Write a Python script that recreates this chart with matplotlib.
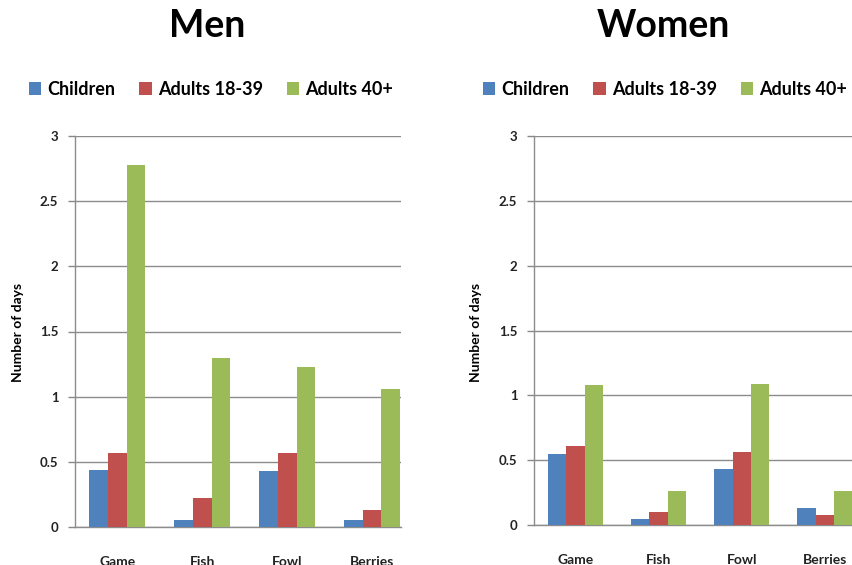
import matplotlib

matplotlib.use("Agg")
import matplotlib.pyplot as plt
import numpy as np
from matplotlib.patches import Patch

plt.rcParams["font.family"] = ["Lato", "DejaVu Sans"]

categories = ["Game", "Fish", "Fowl", "Berries"]
groups = ["Children", "Adults 18-39", "Adults 40+"]
colors = ["#4F81BD", "#C0504D", "#9BBB59"]

men_children = [0.44, 0.05, 0.43, 0.05]
men_adults_18_39 = [0.57, 0.22, 0.57, 0.13]
men_adults_40 = [2.78, 1.30, 1.23, 1.06]

women_children = [0.55, 0.05, 0.43, 0.13]
women_adults_18_39 = [0.61, 0.10, 0.56, 0.08]
women_adults_40 = [1.08, 0.26, 1.09, 0.26]

W, H = 853, 565
fig = plt.figure(figsize=(W / 100, H / 100), dpi=100)


def px_rect(left, right, y0, y3):
    return [left / W, (H - y0) / H, (right - left) / W, (y0 - y3) / H]


def panel(rect, series, title, title_x, legend_x, ylabel_x):
    ax = fig.add_axes(rect)
    x = np.arange(len(categories))
    width = 0.22
    for i, (vals, color) in enumerate(zip(series, colors)):
        ax.bar(x + (i - 1) * width, vals, width, color=color, zorder=3)
    ax.set_ylim(0, 3)
    ax.set_xlim(-0.5, 3.34)
    ax.set_yticks([0, 0.5, 1, 1.5, 2, 2.5, 3])
    ax.set_yticklabels(["0", "0.5", "1", "1.5", "2", "2.5", "3"])
    ax.set_xticks(x)
    ax.set_xticklabels(categories)
    ax.tick_params(axis="x", length=0, pad=21, labelsize=10)
    ax.tick_params(axis="y", length=5, width=1, color="#888888",
                   pad=7, labelsize=9.5)
    for lbl in ax.get_yticklabels() + ax.get_xticklabels():
        lbl.set_fontweight("bold")
        lbl.set_color("#222222")
    ax.grid(axis="y", color="#8c8c8c", linewidth=1, zorder=0)
    for side in ["top", "right"]:
        ax.spines[side].set_visible(False)
    for side in ["left", "bottom"]:
        ax.spines[side].set_color("#8c8c8c")
        ax.spines[side].set_linewidth(1)
    fig.text(title_x / W, 1 - 26 / H, title, fontsize=27, fontweight="bold",
             ha="center", va="center")
    handles = [Patch(facecolor=c) for c in colors]
    fig.legend(handles, groups, loc="center", ncol=3, frameon=False,
               bbox_to_anchor=(legend_x / W, 1 - 89 / H),
               prop={"size": 13, "weight": "bold"},
               handlelength=0.7, handleheight=0.7, handletextpad=0.35,
               columnspacing=1.3)
    fig.text(ylabel_x / W, 1 - 332 / H, "Number of days", rotation=90,
             fontsize=10, fontweight="bold", ha="center", va="center")
    return ax


panel(px_rect(75, 401, 527, 136),
      [men_children, men_adults_18_39, men_adults_40],
      "Men", 207, 211, 18)
panel(px_rect(534, 853, 525, 136),
      [women_children, women_adults_18_39, women_adults_40],
      "Women", 663, 665, 476)

fig.savefig("out.png", dpi=100)
